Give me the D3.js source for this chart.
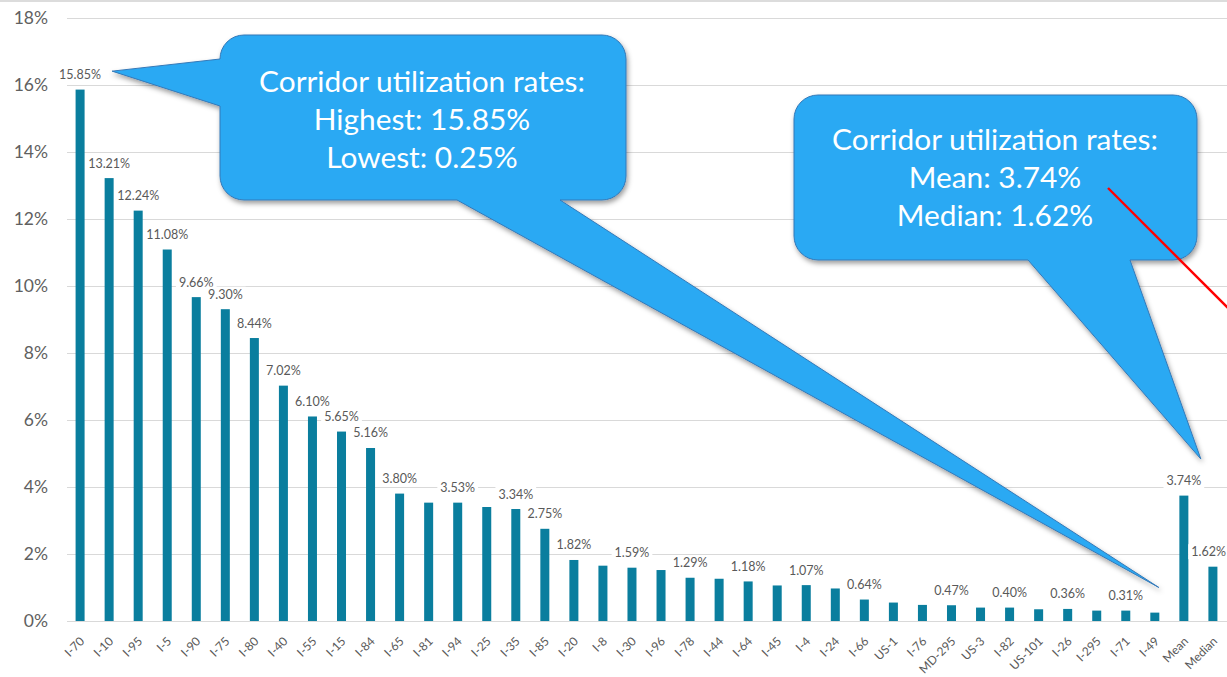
<!DOCTYPE html>
<html>
<head>
<meta charset="utf-8">
<script src="https://cdn.jsdelivr.net/npm/d3@7"></script>
<style>
  html, body { margin: 0; padding: 0; background: #fff; }
  svg { display: block; }
  text { font-family: Lato, "Open Sans", sans-serif; }
</style>
</head>
<body>
<svg id="chart" width="1227" height="677"></svg>
<script>
// Corridor utilization rate by route, plus the mean and median of all routes
const categories = ["I-70","I-10","I-95","I-5","I-90","I-75","I-80","I-40","I-55","I-15",
  "I-84","I-65","I-81","I-94","I-25","I-35","I-85","I-20","I-8","I-30",
  "I-96","I-78","I-44","I-64","I-45","I-4","I-24","I-66","US-1","I-76",
  "MD-295","US-3","I-82","US-101","I-26","I-295","I-71","I-49","Mean","Median"];
const values = [15.85,13.21,12.24,11.08,9.66,9.30,8.44,7.02,6.10,5.65,
  5.16,3.80,3.53,3.53,3.40,3.34,2.75,1.82,1.65,1.59,
  1.52,1.29,1.26,1.18,1.06,1.07,0.97,0.64,0.55,0.48,
  0.47,0.40,0.40,0.35,0.36,0.31,0.31,0.25,3.74,1.62];
// Which bars carry a data label
const labelled = [1,1,1,1,1,1,1,1,1,1,
  1,1,0,1,0,1,1,1,0,1,
  0,1,0,1,0,1,0,1,0,0,
  1,0,1,0,1,0,1,0,1,1];
const yTicks = [0,2,4,6,8,10,12,14,16,18];

const calloutLeftText = ["Corridor utilization rates:", "Highest: 15.85%", "Lowest: 0.25%"];
const calloutRightText = ["Corridor utilization rates:", "Mean: 3.74%", "Median: 1.62%"];

const svg = d3.select("#chart");
const W = 1227, H = 677;

const x = d3.scaleBand().domain(categories).range([66, 1227])
  .paddingInner(0.69).paddingOuter(0.33);
const y = d3.scaleLinear().domain([0, 18]).range([621, 17.5]);
const pct = d => d3.format(".2f")(d) + "%";

const BAR = "#0a7e9e";
const GREY = "#595959";

// faint rule along the top edge
svg.append("rect").attr("x", 0).attr("y", 0).attr("width", W).attr("height", 2)
  .attr("fill", "#dcdcdc");

// horizontal gridlines
svg.append("g").selectAll("line").data(yTicks).join("line")
  .attr("x1", 67).attr("x2", W)
  .attr("y1", d => Math.round(y(d)) + 0.5).attr("y2", d => Math.round(y(d)) + 0.5)
  .attr("stroke", "#d9d9d9").attr("stroke-width", 1);

// y tick labels
svg.append("g").selectAll("text").data(yTicks).join("text")
  .attr("x", 48).attr("y", d => y(d)).attr("dy", "0.36em")
  .attr("text-anchor", "end").attr("fill", "#606060")
  .attr("font-size", 17.5).text(d => d + "%");

// bars
svg.append("g").selectAll("rect").data(categories).join("rect")
  .attr("x", d => x(d)).attr("width", x.bandwidth())
  .attr("y", (d, i) => y(values[i]))
  .attr("height", (d, i) => y(0) - y(values[i]))
  .attr("fill", BAR);

// data labels with a white backing; kept inside the right edge
const lab = svg.append("g").selectAll("g")
  .data(categories.map((c, i) => ({c, v: values[i], show: labelled[i]})).filter(d => d.show))
  .join("g");
lab.append("text").attr("text-anchor", "middle").attr("font-size", 12.5)
  .attr("fill", GREY).text(d => pct(d.v));
lab.each(function(d) {
  const g = d3.select(this);
  const bb = g.select("text").node().getBBox();
  let cx = x(d.c) + x.bandwidth() / 2;
  cx = Math.min(cx, W - 1 - bb.width / 2);
  g.attr("transform", `translate(${cx},${y(d.v) - 10.5})`);
  g.insert("rect", "text").attr("x", bb.x - 3).attr("y", bb.y)
    .attr("width", bb.width + 6).attr("height", bb.height).attr("fill", "#fff");
});

// category labels, rotated
svg.append("g").selectAll("text").data(categories).join("text")
  .attr("transform", d => `translate(${x(d) + x.bandwidth() / 2 + 5},${642}) rotate(-45)`)
  .attr("text-anchor", "end").attr("font-size", 12).attr("fill", GREY)
  .text(d => d);

// callout shadow
const defs = svg.append("defs");
const f = defs.append("filter").attr("id", "shadow")
  .attr("x", "-10%").attr("y", "-10%").attr("width", "130%").attr("height", "140%");
f.append("feDropShadow").attr("dx", 1.5).attr("dy", 3).attr("stdDeviation", 2.5)
  .attr("flood-color", "#000").attr("flood-opacity", 0.38);

// rounded-box callout whose outline runs out to each wedge tip
function calloutPath(b, r, leftWedge, bottomWedge) {
  const p = d3.path();
  const x0 = b.x0, x1 = b.x1, y0 = b.y0, y1 = b.y1;
  p.moveTo(x0 + r, y0);
  p.lineTo(x1 - r, y0);
  p.arcTo(x1, y0, x1, y0 + r, r);
  p.lineTo(x1, y1 - r);
  p.arcTo(x1, y1, x1 - r, y1, r);
  if (bottomWedge) {
    p.lineTo(bottomWedge.b1, y1);
    p.lineTo(bottomWedge.tip[0], bottomWedge.tip[1]);
    p.lineTo(bottomWedge.b0, y1);
  }
  p.lineTo(x0 + r, y1);
  p.arcTo(x0, y1, x0, y1 - r, r);
  if (leftWedge) {
    p.lineTo(x0, leftWedge.b1);
    p.lineTo(leftWedge.tip[0], leftWedge.tip[1]);
    p.lineTo(x0, leftWedge.b0);
  }
  p.lineTo(x0, y0 + r);
  p.arcTo(x0, y0, x0 + r, y0, r);
  p.closePath();
  return p.toString();
}

function drawCallout(box, lines, baselines, cx, left, bottom) {
  const g = svg.append("g");
  g.append("path").attr("d", calloutPath(box, 24, left, bottom))
    .attr("fill", "#29a9f3").attr("stroke", "#3579b8").attr("stroke-width", 1)
    .attr("stroke-linejoin", "round").attr("filter", "url(#shadow)");
  const t = g.selectAll("text").data(lines).join("text")
    .attr("x", cx).attr("y", (d, i) => baselines[i])
    .attr("text-anchor", "middle").attr("fill", "#fff").attr("font-size", 28)
    .text(d => d);
  // size the type so the header line spans its measured width
  const len = t.node().getComputedTextLength();
  t.attr("font-size", 28 * 326 / len);
}

drawCallout({x0: 220, x1: 626, y0: 35, y1: 200}, calloutLeftText, [92, 130, 168], 422,
  {b0: 59, b1: 106, tip: [x("I-70") + x.bandwidth() / 2 + 32, y(16.4)]},
  {b0: 457, b1: 560, tip: [x("I-49") + x.bandwidth() / 2 + 4, y(1.0)]});

drawCallout({x0: 794, x1: 1197, y0: 95, y1: 260}, calloutRightText, [150, 188, 226], 995,
  null,
  {b0: 1028, b1: 1130, tip: [x("Mean") + x.bandwidth() / 2 + 17, y(4.83)]});

// red pointer stroke
svg.append("line").attr("x1", 1108).attr("y1", 188).attr("x2", 1250).attr("y2", 330)
  .attr("stroke", "#ff0000").attr("stroke-width", 2.4);
</script>
</body>
</html>
